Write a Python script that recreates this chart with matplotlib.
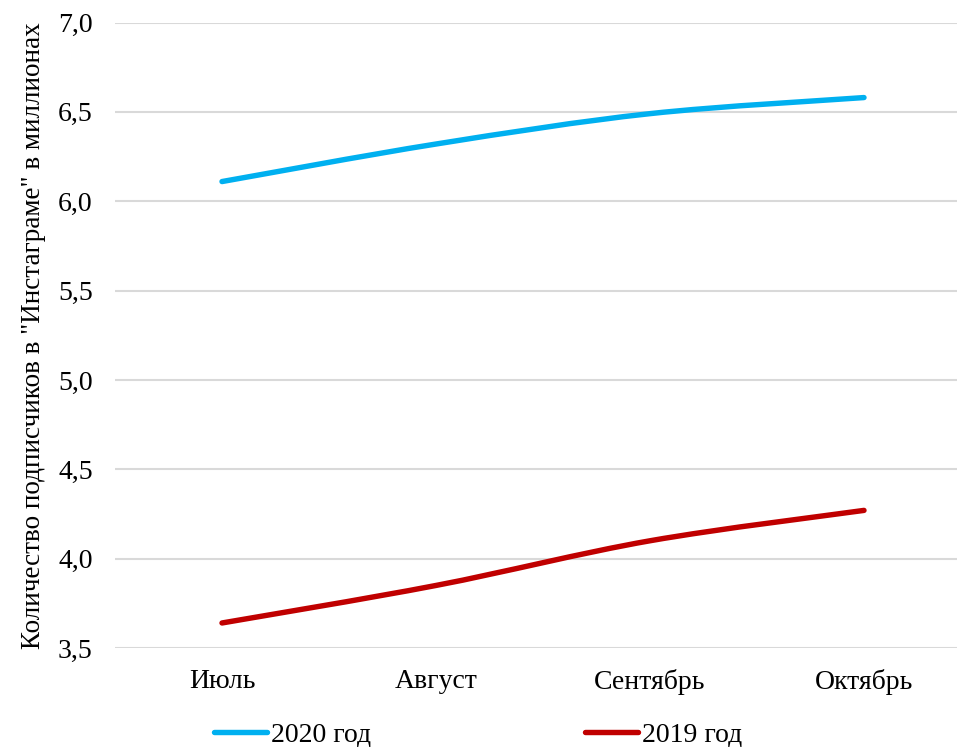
import matplotlib
matplotlib.use("Agg")
import matplotlib.pyplot as plt
import numpy as np
from matplotlib.path import Path
from matplotlib.patches import PathPatch
from matplotlib.lines import Line2D

months = ["Июль", "Август", "Сентябрь", "Октябрь"]
y2020 = [6.11, 6.32, 6.49, 6.58]
y2019 = [3.64, 3.85, 4.10, 4.27]
labels = ["2020 год", "2019 год"]
colors = ["#00B0F0", "#C00000"]
yticks = [3.5, 4.0, 4.5, 5.0, 5.5, 6.0, 6.5, 7.0]

plt.rcParams['font.family'] = ['Liberation Serif', 'DejaVu Serif']
FS = 20

W, H = 957, 747
fig = plt.figure(figsize=(W / 100, H / 100), dpi=100)
left, right = 115 / W, 957 / W
bottom, top = (H - 648) / H, (H - 22.5) / H
ax = fig.add_axes([left, bottom, right - left, top - bottom])


def smooth_path(xs, ys):
    xs = np.asarray(xs, float)
    ys = np.asarray(ys, float)
    n = len(xs)
    verts = [(xs[0], ys[0])]
    codes = [Path.MOVETO]
    for i in range(n - 1):
        p0 = (xs[max(i - 1, 0)], ys[max(i - 1, 0)])
        p1 = (xs[i], ys[i])
        p2 = (xs[i + 1], ys[i + 1])
        p3 = (xs[min(i + 2, n - 1)], ys[min(i + 2, n - 1)])
        c1 = (p1[0] + (p2[0] - p0[0]) / 6, p1[1] + (p2[1] - p0[1]) / 6)
        c2 = (p2[0] - (p3[0] - p1[0]) / 6, p2[1] - (p3[1] - p1[1]) / 6)
        verts += [c1, c2, p2]
        codes += [Path.CURVE4] * 3
    return Path(verts, codes)


x = np.arange(len(months))
for ys, c in zip([y2020, y2019], colors):
    patch = PathPatch(smooth_path(x, ys), fill=False, edgecolor=c,
                      lw=3.9, capstyle='round', joinstyle='round', zorder=3)
    ax.add_patch(patch)

ax.set_xlim(-0.5, (957 - 222) / 214)
ax.set_ylim(3.5, 7.0)
ax.set_yticks(yticks)
ax.set_yticklabels([f"{v:.1f}".replace('.', ',') for v in yticks], fontsize=FS)
ax.set_xticks(x)
ax.set_xticklabels(months, fontsize=FS)
ax.grid(axis='y', color='#d9d9d9', lw=1.5)
ax.set_axisbelow(True)
for s in ax.spines.values():
    s.set_visible(False)
ax.tick_params(length=0)
ax.tick_params(axis='y', pad=16)
ax.tick_params(axis='x', pad=15)
ax.set_ylabel('Количество подписчиков в "Инстаграме" в миллионах', fontsize=19.5, labelpad=9)

handles = [Line2D([], [], color=c, lw=3.9, solid_capstyle='round') for c in colors]
fig.legend(handles, labels, loc='center', bbox_to_anchor=(478 / W, 12.5 / H), ncol=2,
           frameon=False, fontsize=FS, handlelength=1.9, handletextpad=0.15,
           columnspacing=7.7, borderpad=0)

fig.savefig("out.png", dpi=100)
